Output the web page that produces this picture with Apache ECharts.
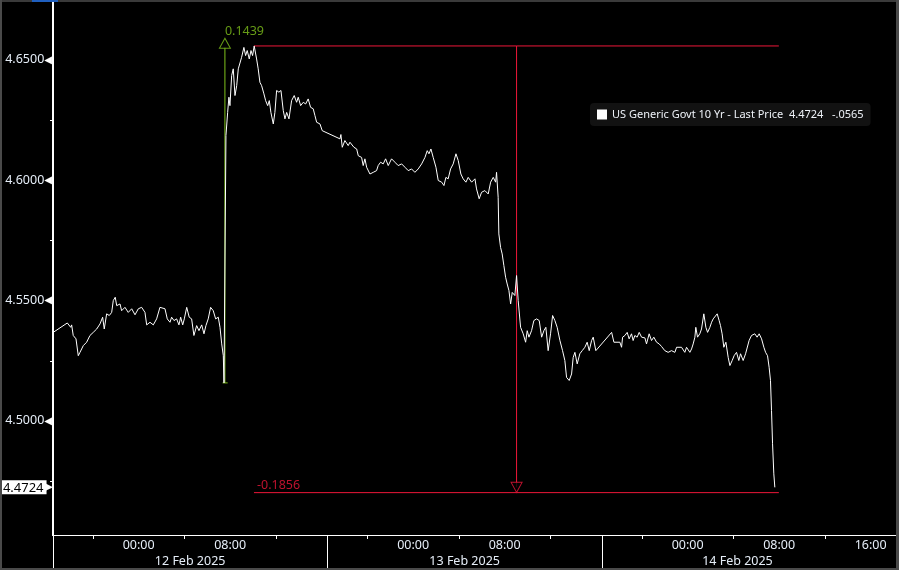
<!DOCTYPE html>
<html>
<head>
<meta charset="utf-8">
<script src="https://cdn.jsdelivr.net/npm/echarts@6/dist/echarts.min.js"></script>
<style>
  html, body { margin: 0; padding: 0; background: #000; }
  #chart { width: 899px; height: 570px; }
</style>
</head>
<body>
<div id="chart"></div>
<script>
// x values are hours since 12 Feb 2025 00:00
const seriesName = 'US Generic Govt 10 Yr - Last Price';
const lastPrice = 4.4724;
const netChange = '-.0565';

const times = [
  // 11 Feb evening -> 12 Feb morning
  -7.47, -6.24, -6.07, -5.94, -5.86, -5.72, -5.48, -5.28, -5.13, -4.84,
  -4.55, -4.26, -3.97, -3.67, -3.38, -3.15, -3.01, -2.80, -2.57, -2.36,
  -2.22, -2.05, -1.92, -1.63, -1.49, -1.20, -0.91, -0.61, -0.32, -0.03,
  0.26, 0.55, 0.70, 0.99, 1.28, 1.57, 1.86, 2.30, 2.50, 2.74,
  2.88, 3.09, 3.32, 3.52, 3.67, 3.85, 3.99, 4.20, 4.42, 4.63,
  4.83, 5.07, 5.27, 5.51, 5.71, 5.88, 6.08, 6.29, 6.52, 6.73,
  6.96, 7.11, 7.26, 7.40, 7.46,
  // CPI spike, 12 Feb
  7.63, 7.78, 7.89, 7.98, 8.13, 8.27, 8.42, 8.57, 8.71, 8.85,
  9.00, 9.20, 9.35, 9.49, 9.67, 9.82, 9.96, 10.10, 10.31, 10.45,
  10.60, 10.75, 10.95, 11.10, 11.28, 11.42, 11.56, 11.77, 11.91, 12.06,
  12.26, 12.44, 12.64, 12.79, 12.94, 13.14, 13.37, 13.60, 13.81, 13.95,
  14.16, 14.39, 14.60, 14.82, 15.03, 15.26, 15.41, 15.56, 15.85, 16.05,
  // 12 Feb evening -> 13 Feb morning
  17.60, 17.68, 17.80, 18.03, 18.32, 18.47, 18.62, 18.82, 19.06, 19.20,
  19.49, 19.63, 19.78, 19.93, 20.22, 20.51, 20.80, 20.94, 21.15, 21.38,
  21.59, 21.82, 22.11, 22.40, 22.69, 22.99, 23.28, 23.57, 23.86, 24.15,
  24.44, 24.74, 25.03, 25.23, 25.38, 25.55, 25.75, 25.99, 26.19, 26.49,
  26.69, 26.86, 27.06, 27.27, 27.50, 27.74, 27.94, 28.17, 28.37, 28.61,
  28.81, 29.11, 29.40, 29.54, 29.77, 29.98, 30.27, 30.56, 30.77, 31.00,
  31.21, 31.29, 31.43,
  // 13 Feb drop and afternoon
  31.49, 31.64, 31.78, 31.93, 32.08, 32.22, 32.37, 32.52, 32.66, 32.89,
  33.04, 33.18, 33.39, 33.62, 33.83, 33.97, 34.12, 34.35, 34.55, 34.79,
  35.02, 35.23, 35.43, 35.60, 35.80, 36.01, 36.19, 36.39, 36.59, 36.83,
  37.06, 37.26, 37.41, 37.64, 37.85, 37.99, 38.14, 38.34, 38.57, 38.78,
  39.01, 39.21, 39.39, 39.60, 39.74, 39.97,
  // 13 Feb evening -> 14 Feb morning
  41.35, 41.55, 42.07, 42.22, 42.31, 42.51, 42.71, 42.88, 43.09, 43.23,
  43.38, 43.58, 43.76, 43.97, 44.26, 44.40, 44.63, 44.84, 45.04, 45.28,
  45.51, 45.72, 46.00, 46.29, 46.59, 46.88, 47.03, 47.46, 47.75, 47.90,
  48.19, 48.34, 48.48, 48.63, 48.71, 48.86, 49.06, 49.21, 49.41, 49.59,
  49.74, 49.94, 50.09, 50.23, 50.37, 50.58, 50.75, 50.87, 51.01, 51.16,
  51.34, 51.54, 51.69, 51.89, 52.06, 52.27, 52.47, 52.62, 52.85, 53.06,
  53.20, 53.37, 53.58, 53.87, 54.07, 54.25, 54.46, 54.66, 54.81, 54.98,
  55.12, 55.24, 55.33, 55.42, 55.53, 55.62
];

const prices = [
  4.5368, 4.5407, 4.5413, 4.5389, 4.5399, 4.5355, 4.5341, 4.5271, 4.5285, 4.5313,
  4.5327, 4.5355, 4.5368, 4.5382, 4.5403, 4.5431, 4.5382, 4.5445, 4.5438, 4.5451,
  4.5500, 4.5514, 4.5479, 4.5486, 4.5458, 4.5472, 4.5451, 4.5466, 4.5441, 4.5466,
  4.5472, 4.5451, 4.5399, 4.5410, 4.5399, 4.5424, 4.5472, 4.5466, 4.5424, 4.5410,
  4.5431, 4.5417, 4.5424, 4.5399, 4.5431, 4.5399, 4.5424, 4.5472, 4.5431, 4.5424,
  4.5355, 4.5396, 4.5375, 4.5399, 4.5362, 4.5396, 4.5424, 4.5472, 4.5458, 4.5424,
  4.5431, 4.5389, 4.5320, 4.5271, 4.5158,

  4.6186, 4.6282, 4.6345, 4.6310, 4.6435, 4.6463, 4.6352, 4.6393, 4.6463, 4.6469,
  4.6511, 4.6552, 4.6518, 4.6539, 4.6504, 4.6539, 4.6518, 4.6558, 4.6504, 4.6463,
  4.6407, 4.6393, 4.6359, 4.6331, 4.6310, 4.6331, 4.6282, 4.6234, 4.6282, 4.6373,
  4.6366, 4.6373, 4.6290, 4.6255, 4.6282, 4.6255, 4.6331, 4.6352, 4.6324, 4.6345,
  4.6310, 4.6324, 4.6317, 4.6338, 4.6303, 4.6297, 4.6269, 4.6241, 4.6234, 4.6206,

  4.6172, 4.6190, 4.6137, 4.6165, 4.6144, 4.6158, 4.6165, 4.6137, 4.6130, 4.6102,
  4.6095, 4.6061, 4.6089, 4.6054, 4.6026, 4.6033, 4.6040, 4.6061, 4.6075, 4.6068,
  4.6089, 4.6061, 4.6089, 4.6075, 4.6061, 4.6068, 4.6054, 4.6040, 4.6047, 4.6033,
  4.6047, 4.6068, 4.6095, 4.6123, 4.6110, 4.6130, 4.6095, 4.6054, 4.5999, 4.5992,
  4.5978, 4.6012, 4.6006, 4.6047, 4.6068, 4.6110, 4.6082, 4.6026, 4.6006, 4.5992,
  4.6012, 4.5992, 4.6006, 4.5964, 4.5923, 4.5950, 4.5957, 4.5943, 4.5992, 4.6012,
  4.5992, 4.6033, 4.5929,

  4.5777, 4.5721, 4.5694, 4.5645, 4.5597, 4.5569, 4.5542, 4.5486, 4.5534, 4.5521,
  4.5604, 4.5500, 4.5389, 4.5362, 4.5327, 4.5375, 4.5348, 4.5375, 4.5417, 4.5424,
  4.5417, 4.5348, 4.5375, 4.5389, 4.5292, 4.5362, 4.5438, 4.5417, 4.5389, 4.5334,
  4.5292, 4.5251, 4.5181, 4.5168, 4.5195, 4.5264, 4.5285, 4.5237, 4.5279, 4.5292,
  4.5306, 4.5327, 4.5292, 4.5334, 4.5348, 4.5292,

  4.5368, 4.5327, 4.5327, 4.5306, 4.5348, 4.5355, 4.5368, 4.5341, 4.5362, 4.5334,
  4.5355, 4.5348, 4.5368, 4.5348, 4.5345, 4.5320, 4.5362, 4.5334, 4.5348, 4.5327,
  4.5320, 4.5309, 4.5292, 4.5285, 4.5292, 4.5285, 4.5306, 4.5306, 4.5285, 4.5306,
  4.5285, 4.5299, 4.5320, 4.5348, 4.5389, 4.5348, 4.5362, 4.5382, 4.5445, 4.5389,
  4.5368, 4.5389, 4.5410, 4.5424, 4.5417, 4.5445, 4.5417, 4.5396, 4.5362, 4.5306,
  4.5327, 4.5264, 4.5230, 4.5251, 4.5271, 4.5285, 4.5251, 4.5279, 4.5251, 4.5279,
  4.5285, 4.5334, 4.5355, 4.5362, 4.5348, 4.5362, 4.5341, 4.5306, 4.5285, 4.5271,
  4.5223, 4.5168, 4.5043, 4.4905, 4.4780, 4.4724
];

// axis ticks / labels
const yLabelValues = [4.50, 4.55, 4.60, 4.65];
const yMinorTicks = [4.475, 4.525, 4.575, 4.625];
const timeTickHours = [-4, 4, 12, 20, 28, 36, 44, 52, 60];
const timeLabelHours = [0, 8, 24, 32, 48, 56, 64];
const timeLabels = ['00:00', '08:00', '00:00', '08:00', '00:00', '08:00', '16:00'];
const dayBreakHours = [-7.49, 16.5, 40.5];
const dateLabelHours = [4.5, 28.5, 52.35];
const dateLabels = ['12 Feb 2025', '13 Feb 2025', '14 Feb 2025'];

// annotations (green up move, red down move)
const upX = 7.54, upLow = 4.5158, upTop = 4.6554, upArrow = 4.6569, upText = '0.1439';
const downStart = 10.08, downEnd = 55.97, downX = 33.04;
const downHigh = 4.6558, downLow = 4.4702, downArrow = 4.4724, downText = '-0.1856';

const GREEN = '#7fc21b';
const RED = '#ee1739';
const FONT = 'Noto Sans';

const chart = echarts.init(document.getElementById('chart'));

function seg(points, color) {
  return {
    type: 'line', data: points, symbol: 'none', silent: true, animation: false,
    lineStyle: { color: color, width: 1 }, z: 3
  };
}

chart.setOption({
  backgroundColor: '#000',
  animation: false,
  grid: { left: 53, right: 2, top: 0, bottom: 35, outerBoundsMode: 'none' },
  legend: {
    data: [seriesName],
    left: 590, top: 103,
    padding: [6, 7, 6, 7],
    backgroundColor: '#121212',
    borderRadius: 4,
    icon: 'rect', itemWidth: 10, itemHeight: 10, itemGap: 6,
    textStyle: { color: '#eef2f8', fontSize: 11, fontFamily: FONT },
    formatter: n => n + '  ' + lastPrice.toFixed(4) + '   ' + netChange
  },
  xAxis: [{
    type: 'value', min: -7.49, max: 66.3,
    splitLine: { show: false },
    axisLine: { onZero: false, lineStyle: { color: '#fff', width: 1 } },
    axisTick: { customValues: timeTickHours, length: 4, lineStyle: { color: '#fff' } },
    axisLabel: {
      customValues: timeLabelHours, margin: 4,
      color: '#e6eef8', fontSize: 12.5, fontFamily: FONT,
      formatter: v => timeLabels[timeLabelHours.indexOf(v)]
    }
  }, {
    type: 'value', min: -7.49, max: 66.3, position: 'bottom',
    splitLine: { show: false },
    axisLine: { show: false, onZero: false },
    axisTick: { customValues: dayBreakHours, length: 35, lineStyle: { color: '#fff' } },
    axisLabel: {
      customValues: dateLabelHours, margin: 20,
      color: '#e6eef8', fontSize: 12.5, fontFamily: FONT,
      formatter: v => dateLabels[dateLabelHours.indexOf(v)]
    }
  }],
  yAxis: [{
    type: 'value', min: 4.4526, max: 4.6749,
    splitLine: { show: false },
    axisLine: { show: true, onZero: false, lineStyle: { color: '#fff', width: 2 } },
    axisTick: { show: true, customValues: yMinorTicks, length: 3, lineStyle: { color: '#fff' } },
    axisLabel: {
      customValues: yLabelValues, margin: 1,
      formatter: v => '{t|' + v.toFixed(4) + '}{a|◀}',
      rich: {
        t: { color: '#e6eef8', fontSize: 12.5, fontFamily: FONT },
        a: { color: '#fff', fontSize: 10, fontFamily: 'DejaVu Sans', padding: [0, 0, 0, 0] }
      }
    }
  }, {
    type: 'value', min: 4.4526, max: 4.6749, position: 'left',
    splitLine: { show: false },
    axisLine: { show: false, onZero: false },
    axisTick: { show: false },
    axisLabel: {
      customValues: [lastPrice], margin: 0,
      formatter: v => '{b|' + v.toFixed(4) + '}{p|▶}',
      rich: {
        b: { backgroundColor: '#fff', color: '#000', fontSize: 13, fontFamily: FONT,
             padding: [1, 3, 0, 3], lineHeight: 15 },
        p: { color: '#fff', fontSize: 11, fontFamily: 'DejaVu Sans', padding: [0, 0, 0, -2] }
      }
    }
  }],
  series: [
    {
      name: seriesName, type: 'line', symbol: 'none', z: 4,
      data: times.map((t, i) => [t, prices[i]]),
      lineStyle: { color: '#fff', width: 1 },
      itemStyle: { color: '#fff' }
    },
    // green up-move marker
    seg([[upX, upLow], [upX, upTop]], GREEN),
    seg([[upX - 0.2, upLow], [upX + 0.24, upLow]], GREEN),
    {
      type: 'scatter', data: [[upX, upArrow]], symbol: 'triangle', symbolSize: [11, 10],
      silent: true, z: 5,
      itemStyle: { color: '#000', borderColor: GREEN, borderWidth: 1 },
      label: {
        show: true, position: 'top', align: 'left', distance: 0,
        formatter: upText, color: GREEN, fontSize: 12.5, fontFamily: FONT
      }
    },
    // red down-move marker
    seg([[downStart, downHigh], [downEnd, downHigh]], RED),
    seg([[downStart, downLow], [downEnd, downLow]], RED),
    seg([[downX, downHigh], [downX, downArrow]], RED),
    {
      type: 'scatter', data: [[downX, downArrow]], symbol: 'triangle', symbolSize: [11, 10],
      symbolRotate: 180, silent: true, z: 5,
      itemStyle: { color: '#000', borderColor: RED, borderWidth: 1 }
    },
    {
      type: 'scatter', data: [[downStart, downLow]], symbolSize: 1, silent: true, z: 5,
      itemStyle: { color: 'rgba(0,0,0,0)' },
      label: {
        show: true, position: 'top', align: 'left', distance: 0, offset: [3, 0],
        formatter: downText, color: RED, fontSize: 12.5, fontFamily: FONT
      }
    }
  ],
  graphic: [
    // frame of the plot panel
    { type: 'rect', z: 100, shape: { x: 52, y: 0, width: 2, height: 536 }, style: { fill: '#ffffff' }, silent: true },
    { type: 'rect', z: 100, shape: { x: 0, y: 0, width: 899, height: 2 }, style: { fill: '#3a3a3a' }, silent: true },
    { type: 'rect', z: 100, shape: { x: 32, y: 0, width: 26, height: 2 }, style: { fill: '#1f5fbf' }, silent: true },
    { type: 'rect', z: 100, shape: { x: 0, y: 0, width: 2, height: 570 }, style: { fill: '#4a4a4a' }, silent: true },
    { type: 'rect', z: 100, shape: { x: 896, y: 0, width: 3, height: 570 }, style: { fill: '#4a4a4a' }, silent: true },
    { type: 'rect', z: 100, shape: { x: 0, y: 568, width: 899, height: 2 }, style: { fill: '#4a4a4a' }, silent: true }
  ]
});
</script>
</body>
</html>
